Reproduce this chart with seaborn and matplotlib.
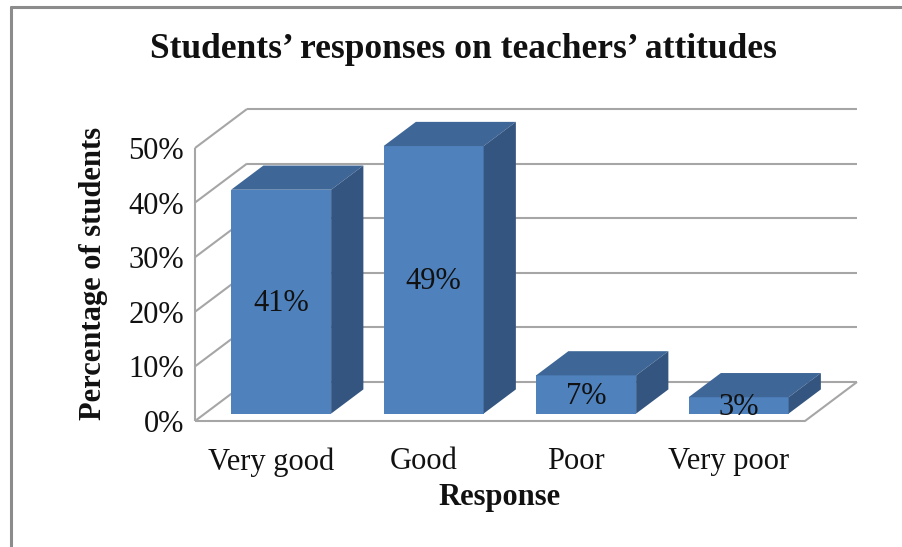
import matplotlib
matplotlib.use("Agg")
import matplotlib.pyplot as plt
import seaborn as sns
import pandas as pd
from matplotlib.patches import Polygon
from matplotlib.lines import Line2D

# ---- data ----
categories = ["Very good", "Good", "Poor", "Very poor"]
percentages = [41, 49, 7, 3]
y_ticks = [0, 10, 20, 30, 40, 50]
y_tick_labels = ["0%", "10%", "20%", "30%", "40%", "50%"]
title_text = "Students\u2019 responses on teachers\u2019 attitudes"
x_label = "Response"
y_label = "Percentage of students"

# ---- style ----
FRONT = "#4F81BD"
TOP = "#3E6696"
SIDE = "#34557F"
GRID = "#A6A6A6"
BORDER = "#8C8C8C"
TXT = "#111111"
W, H = 903, 547

sns.set_theme(style="white")
plt.rcParams["font.family"] = ["Liberation Serif", "DejaVu Serif"]

fig = plt.figure(figsize=(W / 100, H / 100), dpi=100)
fig.patch.set_facecolor("white")

# front plane of the 3D box in pixels
fx0, fx1, fy0, fy1 = 195, 805, 421, 148
ax = fig.add_axes([fx0 / W, 1 - fy0 / H, (fx1 - fx0) / W, (fy0 - fy1) / H])

n = len(categories)
ymax = y_ticks[-1]
px_cat = (fx1 - fx0) / n
px_pct = (fy0 - fy1) / ymax
# depth vector of the floor (pixels) -> data units
DX = 52 / px_cat
DY = 39 / px_pct
F_FRONT, F_BACK = 0.19, 0.81
BAR_W = 100 / px_cat

df = pd.DataFrame({"Response": categories, "Pct": percentages})
sns.barplot(data=df, x="Response", y="Pct", ax=ax, color=FRONT, width=BAR_W,
            saturation=1, zorder=3, linewidth=0)
ax.set_xlim(-0.5, n - 0.5)
ax.set_ylim(0, ymax)
for s in ax.spines.values():
    s.set_visible(False)
ax.set_facecolor("none")

lkw = dict(color=GRID, lw=1.5, clip_on=False, zorder=1, solid_capstyle="butt")
xl, xr = -0.5, n - 0.5
# back wall gridlines and side-wall diagonals
for t in y_ticks:
    ax.add_line(Line2D([xl + DX, xr + DX], [t + DY, t + DY], **lkw))
    ax.add_line(Line2D([xl, xl + DX], [t, t + DY], **lkw))
# left front vertical edge
ax.add_line(Line2D([xl, xl], [0, ymax], **lkw))
# floor outline
ax.add_line(Line2D([xl, xr, xr + DX], [0, 0, DY], **lkw))

# 3D bars: shift seaborn's bars into depth, add top and side faces
for p, v in zip(ax.patches, percentages):
    x0 = p.get_x() + F_FRONT * DX
    y0 = F_FRONT * DY
    w = p.get_width()
    p.set_x(x0)
    p.set_y(y0)
    p.set_height(v)
    p.set_clip_on(False)
    x1 = x0 + w
    y1 = y0 + v
    ddx = (F_BACK - F_FRONT) * DX
    ddy = (F_BACK - F_FRONT) * DY
    ax.add_patch(Polygon([(x0, y1), (x1, y1), (x1 + ddx, y1 + ddy), (x0 + ddx, y1 + ddy)],
                         closed=True, facecolor=TOP, edgecolor="none", zorder=3, clip_on=False))
    ax.add_patch(Polygon([(x1, y0), (x1 + ddx, y0 + ddy), (x1 + ddx, y1 + ddy), (x1, y1)],
                         closed=True, facecolor=SIDE, edgecolor="none", zorder=3, clip_on=False))
    ax.text(x0 + w / 2, y0 + v / 2 - 0.3, f"{v}%", ha="center", va="center",
            fontsize=22, color=TXT, zorder=5, clip_on=False)

ax.set_yticks(y_ticks, y_tick_labels)
ax.set_xticks(range(n), categories)
ax.tick_params(axis="y", length=0, pad=8, labelsize=22, labelcolor=TXT)
ax.tick_params(axis="x", length=0, pad=19, labelsize=22, labelcolor=TXT)

ax.set_xlabel(x_label, fontsize=22, fontweight="bold", color=TXT)
ax.xaxis.label.set_va("center")
ax.xaxis.set_label_coords((500 - fx0) / (fx1 - fx0), (fy0 - 497) / (fy0 - fy1))
ax.set_ylabel(y_label, fontsize=22, fontweight="bold", color=TXT)
ax.yaxis.label.set_va("center")
ax.yaxis.set_label_coords((94 - fx0) / (fx1 - fx0), (fy0 - 273) / (fy0 - fy1))

fig.text(463 / W, 1 - 50 / H, title_text, ha="center", va="center",
         fontsize=25.5, fontweight="bold", color=TXT)

# outer chart frame (left and top edges visible)
fig.add_artist(Line2D([11 / W, 11 / W], [0, 1 - 7 / H], transform=fig.transFigure,
                      color=BORDER, lw=2.2))
fig.add_artist(Line2D([11 / W, 1], [1 - 7 / H, 1 - 7 / H], transform=fig.transFigure,
                      color=BORDER, lw=2.2))

fig.savefig("out.png", dpi=100)
